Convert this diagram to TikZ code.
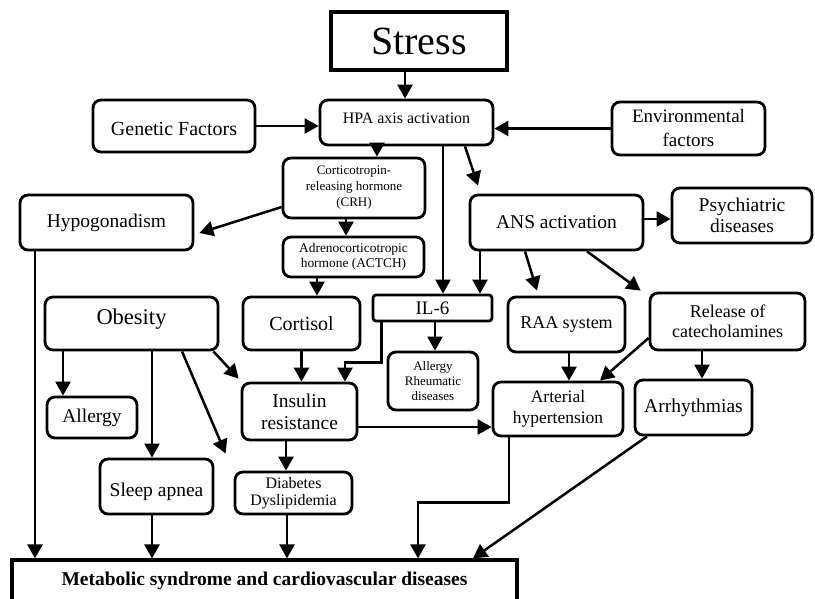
\documentclass[tikz,border=0pt]{standalone}
\usepackage{fontspec}
\setmainfont{Liberation Serif}
\usetikzlibrary{arrows.meta,calc}
\newcommand\fsz[2]{\fontsize{#1}{#2}\selectfont}
\newcommand\lift[2]{\raisebox{#1}[\height][\depth]{#2}}
\begin{document}
\begin{tikzpicture}[x=1pt,y=-1pt,
  box/.style={draw, line width=2.8pt, rounded corners=8pt, inner sep=0pt, align=center},
  sharpbox/.style={draw, line width=3.2pt, inner sep=0pt, align=center},
  arr/.style={line width=2.5pt, -{Triangle[length=14pt,width=15pt]}}]
\useasboundingbox[fill=white] (0,0) rectangle (815,599);

% nodes
\node[sharpbox, minimum width=176pt, minimum height=58pt, font=\fsz{40}{44}] (stress) at (419,41) {Stress};
\node[box, minimum width=173pt, minimum height=45pt, font=\fsz{16}{19}] (hpa) at (406.5,122.5) {\lift{4pt}{HPA axis activation}};
\node[box, minimum width=162pt, minimum height=52pt, font=\fsz{20}{23}] (genetic) at (174,126) {\lift{-3pt}{Genetic Factors}};
\node[box, minimum width=153pt, minimum height=53pt, font=\fsz{19}{24}] (env) at (688.5,128.5) {Environmental\\factors};
\node[box, minimum width=142pt, minimum height=60pt, font=\fsz{13}{16}] (crh) at (354,188) {Corticotropin-\\releasing hormone\\(CRH)};
\node[box, minimum width=141pt, minimum height=40pt, font=\fsz{13.4}{15}] (actch) at (353.5,257) {Adrenocorticotropic\\hormone (ACTCH)};
\node[box, minimum width=173pt, minimum height=55pt, font=\fsz{19.5}{22}] (hypo) at (106.5,222.5) {Hypogonadism};
\node[box, minimum width=173pt, minimum height=55pt, font=\fsz{19.5}{22}] (ans) at (556.5,222.5) {ANS activation};
\node[box, minimum width=140pt, minimum height=55pt, font=\fsz{19.5}{21}] (psych) at (742,215.5) {Psychiatric\\diseases};
\node[box, minimum width=173pt, minimum height=53pt, font=\fsz{22.5}{25}] (obesity) at (131.5,323.5) {\lift{4pt}{Obesity}};
\node[box, minimum width=117pt, minimum height=53pt, font=\fsz{20}{23}] (cortisol) at (301.5,323.5) {Cortisol};
\node[box, rounded corners=3pt, minimum width=119pt, minimum height=26pt, font=\fsz{19}{21}] (il6) at (432.5,308) {IL-6};
\node[box, minimum width=90pt, minimum height=58pt, font=\fsz{13}{15}] (allrh) at (433,381) {Allergy\\Rheumatic\\diseases};
\node[box, minimum width=117pt, minimum height=55pt, font=\fsz{18}{20}] (raa) at (566.5,324.5) {RAA system};
\node[box, minimum width=155pt, minimum height=57pt, font=\fsz{18}{20}] (release) at (727.5,321.5) {Release of\\catecholamines};
\node[box, minimum width=115pt, minimum height=57pt, font=\fsz{19.5}{22}] (insulin) at (299.5,411.5) {Insulin\\resistance};
\node[box, minimum width=130pt, minimum height=54pt, font=\fsz{17.5}{21}] (arterial) at (558,409) {Arterial\\hypertension};
\node[box, minimum width=117pt, minimum height=55pt, font=\fsz{19.5}{22}] (arrhy) at (693.5,407.5) {Arrhythmias};
\node[box, minimum width=90pt, minimum height=41pt, font=\fsz{19.5}{22}] (allergy) at (92,417.5) {Allergy};
\node[box, minimum width=113pt, minimum height=55pt, font=\fsz{19.5}{22}] (sleep) at (156.5,486.5) {\lift{-5pt}{Sleep apnea}};
\node[box, minimum width=117pt, minimum height=42pt, font=\fsz{16}{17}] (diab) at (293.5,493) {Diabetes\\Dyslipidemia};
\node[sharpbox, minimum width=505pt, minimum height=42pt, font=\fsz{19.5}{22}\bfseries] (metab) at (264.5,581) {Metabolic syndrome and cardiovascular diseases};

% connector anchors
\coordinate (c1) at ([xshift=-14pt]stress.south);
\coordinate (c2) at ([xshift=-29.5pt]hpa.south);
\coordinate (c3) at ([xshift=-8pt]crh.south);
\coordinate (c4) at ([xshift=-36.5pt]actch.south);
\coordinate (c5) at ([xshift=36.5pt]hpa.south);
\coordinate (c6) at ([yshift=3.5pt]ans.east);
\coordinate (c7) at ([xshift=-76.5pt]ans.south);
\coordinate (c8) at ([xshift=2.5pt]il6.south);
\coordinate (c9) at ([xshift=10pt]il6.south west);
\coordinate (c10) at ([xshift=45.5pt]insulin.north);
\coordinate (c11) at ([xshift=-68.5pt]obesity.south);
\coordinate (c12) at ([xshift=20.5pt]obesity.south);
\coordinate (c13) at ([xshift=-13.5pt]insulin.south);
\coordinate (c14) at ([yshift=-15.5pt]insulin.east);
\coordinate (c15) at ([xshift=2.5pt]raa.south);
\coordinate (c16) at ([xshift=-25.5pt]release.south);
\coordinate (c17) at ([xshift=-71.5pt]hypo.south);
\coordinate (c18) at ([xshift=-4.5pt]sleep.south);
\coordinate (c19) at ([xshift=-6.5pt]diab.south);
\coordinate (c20) at ([xshift=-49pt]arterial.south);
\coordinate (c21) at ([xshift=153.5pt]metab.north);

% connectors
\draw[arr] (c1) -- (c1 |- hpa.north);
\draw[arr] (genetic.east) -- (genetic.east -| hpa.west);
\draw[arr] (env.west) -- (env.west -| hpa.east);
\draw[arr] (c2) -- (c2 |- crh.north);
\draw[arr] (c3) -- (c3 |- actch.north);
\draw[arr] (c4) -- (c4 |- cortisol.north);
\draw[arr] ([yshift=-19pt]crh.west) -- ([xshift=5pt,yshift=-10.5pt]hypo.east);
\draw[arr] (c5) -- (c5 |- il6.north);
\draw[arr] ([xshift=58.5pt]hpa.south) -- ([xshift=-78.5pt,yshift=8pt]ans.north);
\draw[arr] (c6) -- (c6 -| psych.west);
\draw[arr] (c7) -- (c7 |- il6.north);
\draw[arr] ([xshift=-31.5pt]ans.south) -- ([xshift=-29.5pt,yshift=5pt]raa.north);
\draw[arr] ([xshift=30.5pt]ans.south) -- ([xshift=-8pt,yshift=1pt]release.north west);
\draw[arr] (c8) -- (c8 |- allrh.north);
\draw[arr] (c9) -- ++(0,40) -| (c10);
\draw[arr] (cortisol.south) -- (cortisol.south |- insulin.north);
\draw[arr] ([xshift=-6pt]obesity.south east) -- ([xshift=-2pt,yshift=3pt]insulin.north west);
\draw[arr] (c11) -- (c11 |- allergy.north);
\draw[arr] (c12) -- (c12 |- sleep.north);
\draw[arr] ([xshift=50.5pt]obesity.south) -- ([xshift=-8pt,yshift=17pt]diab.north west);
\draw[arr] (c13) -- (c13 |- diab.north);
\draw[arr] (c14) -- (c14 -| arterial.west);
\draw[arr] (c15) -- (c15 |- arterial.north);
\draw[arr] ([yshift=-16.5pt]release.west) -- ([xshift=42pt]arterial.north);
\draw[arr] (c16) -- (c16 |- arrhy.north);
\draw[arr] (c17) -- (c17 |- metab.north);
\draw[arr] (c18) -- (c18 |- metab.north);
\draw[arr] (c19) -- (c19 |- metab.north);
\draw[arr] (c20) -- ++(0,65) -| (c21);
\draw[arr] ([xshift=-46.5pt]arrhy.south) -- ([xshift=208.5pt]metab.north);
\end{tikzpicture}
\end{document}
